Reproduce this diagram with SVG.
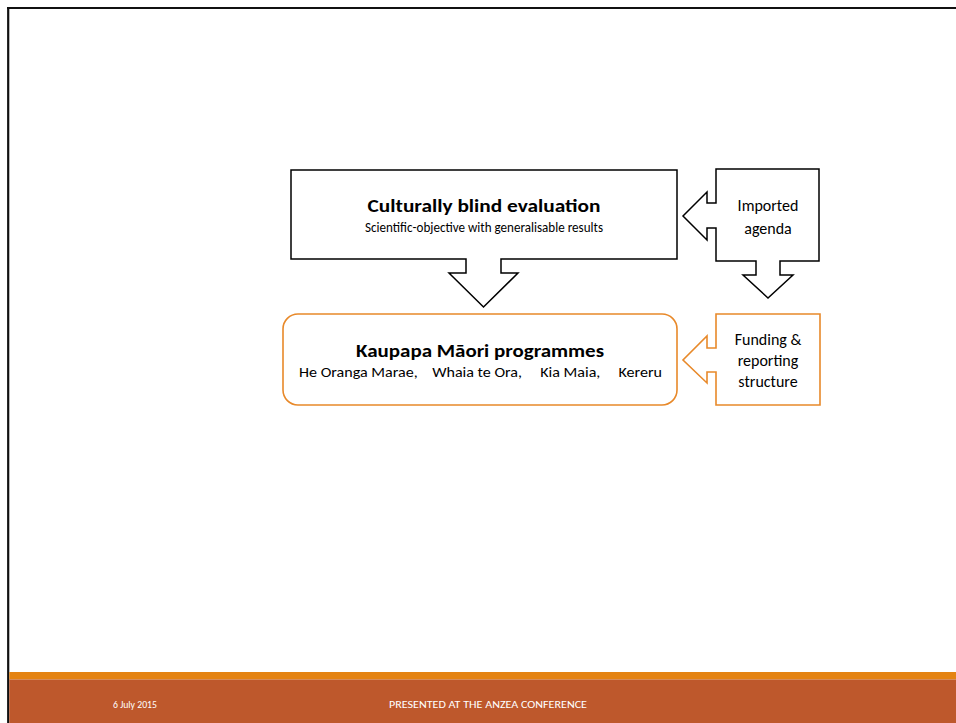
<svg xmlns="http://www.w3.org/2000/svg" width="956" height="723" viewBox="0 0 956 723">
<style>
.blk{fill:#fff;stroke:#000;stroke-width:1.5;stroke-linejoin:miter}
.org{fill:#fff;stroke:#E8892A;stroke-width:1.6;stroke-linejoin:miter}
text{font-family:"Carlito","Liberation Sans",sans-serif;fill:#000}
.t{font-size:18.7px;font-weight:bold;text-anchor:middle}
.s{font-size:13.3px;text-anchor:middle}
.m{font-size:16px;text-anchor:middle}
.f{font-size:9.8px;fill:#fff}
</style>
<rect x="0" y="0" width="956" height="723" fill="#fff"/>
<g id="frame">
<line x1="7" y1="8" x2="956" y2="8" stroke="#111" stroke-width="2.2"/>
<line x1="8.2" y1="7" x2="8.2" y2="723" stroke="#111" stroke-width="2.2"/>
</g>
<g id="footer">
<rect x="9.3" y="672" width="946.7" height="7.5" fill="#E48312"/>
<rect x="9.3" y="679.5" width="946.7" height="43.5" fill="#BE582C"/>
<text class="f" x="113" y="708" textLength="44" lengthAdjust="spacingAndGlyphs">6 July 2015</text>
<text class="f" x="389" y="708" textLength="198" lengthAdjust="spacingAndGlyphs">PRESENTED AT THE ANZEA CONFERENCE</text>
</g>
<g id="culturally-blind">
<path class="blk" d="M291,170 H677 V259 H501 V273 H518 L483.5,307 L449,273 H466 V259 H291 Z"/>
<text class="t" x="484" y="212" textLength="233" lengthAdjust="spacingAndGlyphs">Culturally blind evaluation</text>
<text class="s" x="484" y="232" textLength="238" lengthAdjust="spacingAndGlyphs">Scientific-objective with generalisable results</text>
</g>
<g id="imported-agenda">
<path class="blk" d="M716,169 H819 V261 H780 V275 H793 L768,298 L743,275 H756 V261 H716 V228 H707 V240 L683,216 L707,192 V203 H716 Z"/>
<text class="m" x="768" y="211">Imported</text>
<text class="m" x="768" y="234">agenda</text>
</g>
<g id="kaupapa">
<rect class="org" x="283" y="314" width="394" height="91" rx="15" ry="15"/>
<text class="t" x="480" y="357" textLength="248" lengthAdjust="spacingAndGlyphs">Kaupapa Māori programmes</text>
<text class="s" x="480.5" y="377" textLength="363" lengthAdjust="spacingAndGlyphs" xml:space="preserve">He Oranga Marae,    Whaia te Ora,     Kia Maia,     Kereru</text>
</g>
<g id="funding">
<path class="org" d="M716,314 H820 V405 H716 V372 H707 V383 L683,360 L707,336 V348 H716 Z"/>
<text class="m" x="768" y="345">Funding &amp;</text>
<text class="m" x="768" y="366">reporting</text>
<text class="m" x="768" y="387">structure</text>
</g>
<g id="connectors"></g>
</svg>
